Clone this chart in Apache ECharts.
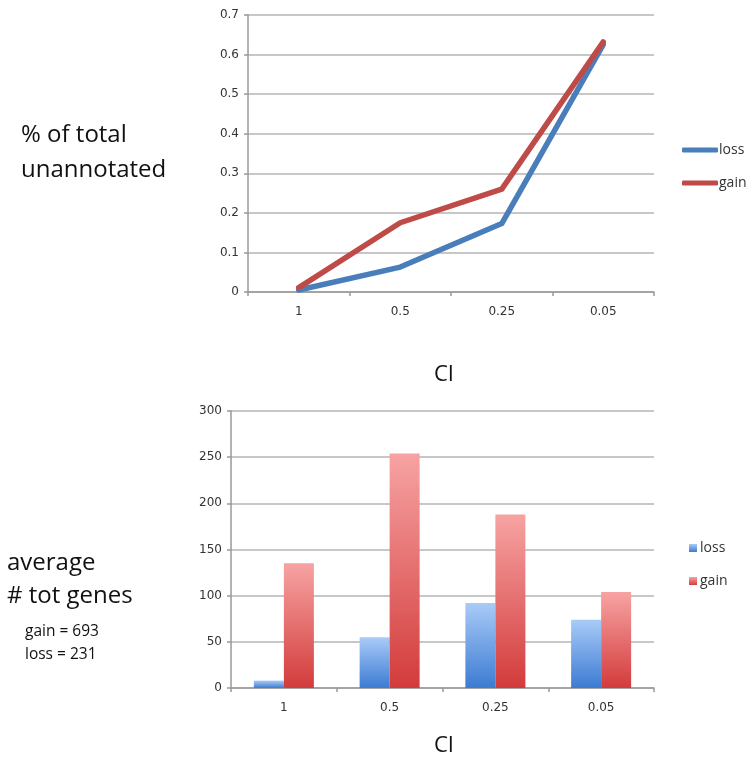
<!DOCTYPE html>
<html><head><meta charset="utf-8">
<script src="https://cdn.jsdelivr.net/npm/echarts@6/dist/echarts.min.js"></script>
<style>html,body{margin:0;padding:0;background:#fff}#c{width:750px;height:773px}</style>
</head><body><div id="c"></div>
<script>
const categories = ['1', '0.5', '0.25', '0.05'];
const lineLoss = [0.005, 0.063, 0.173, 0.625];
const lineGain = [0.011, 0.175, 0.26, 0.632];
const barLoss = [8, 55, 92, 74];
const barGain = [135, 254, 188, 104];
const topTicks = { min: 0, max: 0.7, interval: 0.1 };
const bottomTicks = { min: 0, max: 300, interval: 50 };

const tickFont = { color: '#333', fontSize: 12, fontFamily: 'DejaVu Sans' };
const bigFont = '"Open Sans", sans-serif';

function catAxis(gi) {
  return {
    type: 'category', gridIndex: gi, data: categories, boundaryGap: true,
    axisLine: { show: true, lineStyle: { color: '#999', width: 1.5 } },
    axisTick: { show: true, length: 4, lineStyle: { color: '#999', width: 1.5 } },
    axisLabel: Object.assign({ margin: 14 }, tickFont)
  };
}
function valAxis(gi, t, fmt) {
  return {
    type: 'value', gridIndex: gi, min: t.min, max: t.max, interval: t.interval,
    axisLine: { show: true, lineStyle: { color: '#999', width: 1.5 } },
    axisTick: { show: true, length: 4, lineStyle: { color: '#999', width: 1.5 } },
    splitLine: { show: true, lineStyle: { color: '#b5b5b5', width: 1.5 } },
    axisLabel: Object.assign({ margin: 9, formatter: fmt }, tickFont)
  };
}
function grad(top, bottom) {
  return new echarts.graphic.LinearGradient(0, 0, 0, 1, [
    { offset: 0, color: top }, { offset: 1, color: bottom }
  ]);
}

const chart = echarts.init(document.getElementById('c'), null, { renderer: 'canvas' });
chart.setOption({
  animation: false,
  backgroundColor: '#fff',
  grid: [
    { left: 248, right: 96, top: 15, height: 277 },
    { left: 231, right: 96, top: 411, height: 277 }
  ],
  xAxis: [catAxis(0), catAxis(1)],
  yAxis: [
    valAxis(0, topTicks, v => (Math.round(v * 10) / 10).toString()),
    valAxis(1, bottomTicks, v => v.toString())
  ],
  legend: [
    { data: ['loss', 'gain'], orient: 'vertical', left: 677, top: 138, itemWidth: 36, itemHeight: 5,
      itemGap: 19, icon: 'roundRect', textStyle: { color: '#333', fontSize: 14, fontFamily: bigFont, padding: [0, 0, 0, -4] } },
    { data: ['loss ', 'gain '], orient: 'vertical', left: 684, top: 536, itemWidth: 8, itemHeight: 8,
      itemGap: 19, icon: 'rect', textStyle: { color: '#333', fontSize: 14, fontFamily: bigFont, padding: [0, 0, 0, -2] } }
  ],
  series: [
    { name: 'loss', type: 'line', xAxisIndex: 0, yAxisIndex: 0, data: lineLoss, symbol: 'none',
      lineStyle: { color: '#4a7ebb', width: 5.5, cap: 'round', join: 'round' }, itemStyle: { color: '#4a7ebb' } },
    { name: 'gain', type: 'line', xAxisIndex: 0, yAxisIndex: 0, data: lineGain, symbol: 'none',
      lineStyle: { color: '#be4b48', width: 5.5, cap: 'round', join: 'round' }, itemStyle: { color: '#be4b48' } },
    { name: 'loss ', type: 'bar', xAxisIndex: 1, yAxisIndex: 1, data: barLoss, barWidth: 30, barGap: '0%',
      itemStyle: { color: grad('#a9cbf8', '#3c7bd2') } },
    { name: 'gain ', type: 'bar', xAxisIndex: 1, yAxisIndex: 1, data: barGain, barWidth: 30, barGap: '0%',
      itemStyle: { color: grad('#f7a3a3', '#d33b3b') } }
  ],
  graphic: [
    { type: 'text', left: 21, top: 123, style: { text: '% of total', fontSize: 24, fontFamily: bigFont, fill: '#111' } },
    { type: 'text', left: 21, top: 158, style: { text: 'unannotated', fontSize: 24, fontFamily: bigFont, fill: '#111' } },
    { type: 'text', left: 434, top: 364, style: { text: 'CI', fontSize: 22, fontFamily: bigFont, fill: '#111' } },
    { type: 'text', left: 7, top: 551, style: { text: 'average', fontSize: 24, fontFamily: bigFont, fill: '#111' } },
    { type: 'text', left: 7, top: 584, style: { text: '# tot genes', fontSize: 24, fontFamily: bigFont, fill: '#111' } },
    { type: 'text', left: 25, top: 624, style: { text: 'gain = 693', fontSize: 15.5, fontFamily: bigFont, fill: '#111' } },
    { type: 'text', left: 25, top: 647, style: { text: 'loss = 231', fontSize: 15.5, fontFamily: bigFont, fill: '#111' } },
    { type: 'text', left: 434, top: 735, style: { text: 'CI', fontSize: 22, fontFamily: bigFont, fill: '#111' } }
  ]
});
</script></body></html>
